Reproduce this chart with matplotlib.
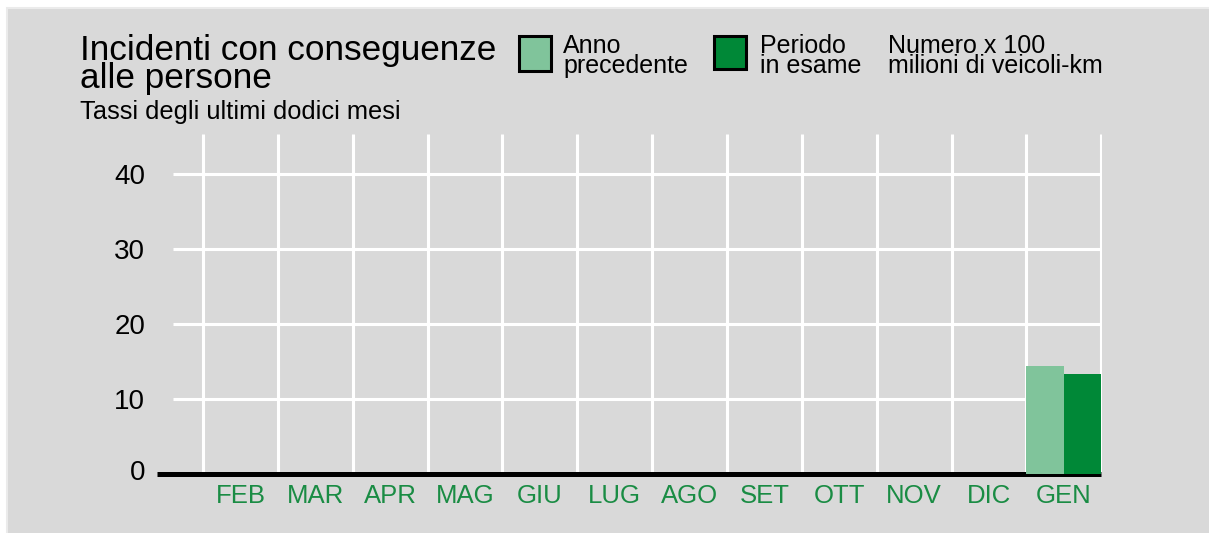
import matplotlib
matplotlib.use("Agg")
import matplotlib.pyplot as plt
import numpy as np
from matplotlib.patches import Rectangle
from matplotlib.transforms import ScaledTranslation

# ---- data ----
months = ["FEB", "MAR", "APR", "MAG", "GIU", "LUG", "AGO", "SET", "OTT", "NOV", "DIC", "GEN"]
prev_year = [np.nan] * 11 + [14.3]
current_period = [np.nan] * 11 + [13.3]
yticks = [0, 10, 20, 30, 40]
title_text = "Incidenti con conseguenze\nalle persone"
subtitle = "Tassi degli ultimi dodici mesi"
legend_prev = "Anno\nprecedente"
legend_curr = "Periodo\nin esame"
unit_text = "Numero x 100\nmilioni di veicoli-km"

# ---- style ----
W, H = 1209, 533
BG = "#d9d9d9"
LIGHT = "#80c49b"
DARK = "#008837"
LABEL_GREEN = "#1a8c44"
REG = "Liberation Sans"

fig = plt.figure(figsize=(W / 100, H / 100), dpi=100)
fig.patch.set_facecolor("white")

def fx(x):
    return x / W

def fy(y):
    return 1 - y / H

# gray panel (light border only on left/top edges)
fig.patches.append(Rectangle((fx(7), -0.05), 1.1, fy(8) + 0.05, transform=fig.transFigure,
                             facecolor=BG, edgecolor="#ebebeb", lw=1.5, zorder=-5))

# axes
left, right, top, base = 157, 1102, 134, 473.5
ax = fig.add_axes([fx(left), fy(base), (right - left) / W, (base - top) / H])
ax.patch.set_visible(False)
x = np.arange(len(months))
xmin = -1.115
ax.set_xlim(xmin, 11.51)
ax.set_ylim(0, 45.27)

ax.hlines(yticks[1:], -0.9, 11.51, color="white", lw=2.2, zorder=1)
ax.vlines(np.arange(len(months) + 1) - 0.5, 0, 45.27, color="white", lw=2.2, zorder=1)
ax.plot([xmin, 11.5], [0, 0], color="black", lw=3.6, solid_capstyle="butt",
        clip_on=False, zorder=2)
ax.bar(x - 0.25, prev_year, width=0.5, color=LIGHT, zorder=3)
ax.bar(x + 0.25, current_period, width=0.5, color=DARK, zorder=3)

for s in ax.spines.values():
    s.set_visible(False)
ax.set_yticks(yticks)
ax.set_yticklabels([str(v) for v in yticks], fontsize=20, family=REG)
ax.tick_params(axis="y", length=0, pad=8.6)
ax.set_xticks(x)
ax.set_xticklabels(months, fontsize=18.5, family=REG, color=LABEL_GREEN)
ax.tick_params(axis="x", length=0, pad=7.5)
# the zero label sits slightly above the baseline in the original
zero_lbl = ax.get_yticklabels()[0]
zero_lbl.set_transform(zero_lbl.get_transform() + ScaledTranslation(0, 4 / 100, fig.dpi_scale_trans))

# titles (va="baseline" aligns the last line of multi-line text)
fig.text(fx(80), fy(88), title_text, fontsize=25.3, family=REG, va="baseline",
         linespacing=0.82)
fig.text(fx(80), fy(119), subtitle, fontsize=18.3, family=REG, va="baseline")

# legend
def box(x0, x1, y0, y1, color):
    fig.patches.append(Rectangle((fx(x0), fy(y1)), (x1 - x0) / W, (y1 - y0) / H,
                                 transform=fig.transFigure, facecolor=color,
                                 edgecolor="black", lw=2.2, zorder=3))

box(519, 551, 36, 71, LIGHT)
box(714, 746, 36, 69, DARK)
for xx, txt in [(563, legend_prev), (760, legend_curr), (888, unit_text)]:
    fig.text(fx(xx), fy(73), txt, fontsize=18, family=REG, va="baseline", linespacing=0.78)

fig.savefig("out.png", dpi=100)
